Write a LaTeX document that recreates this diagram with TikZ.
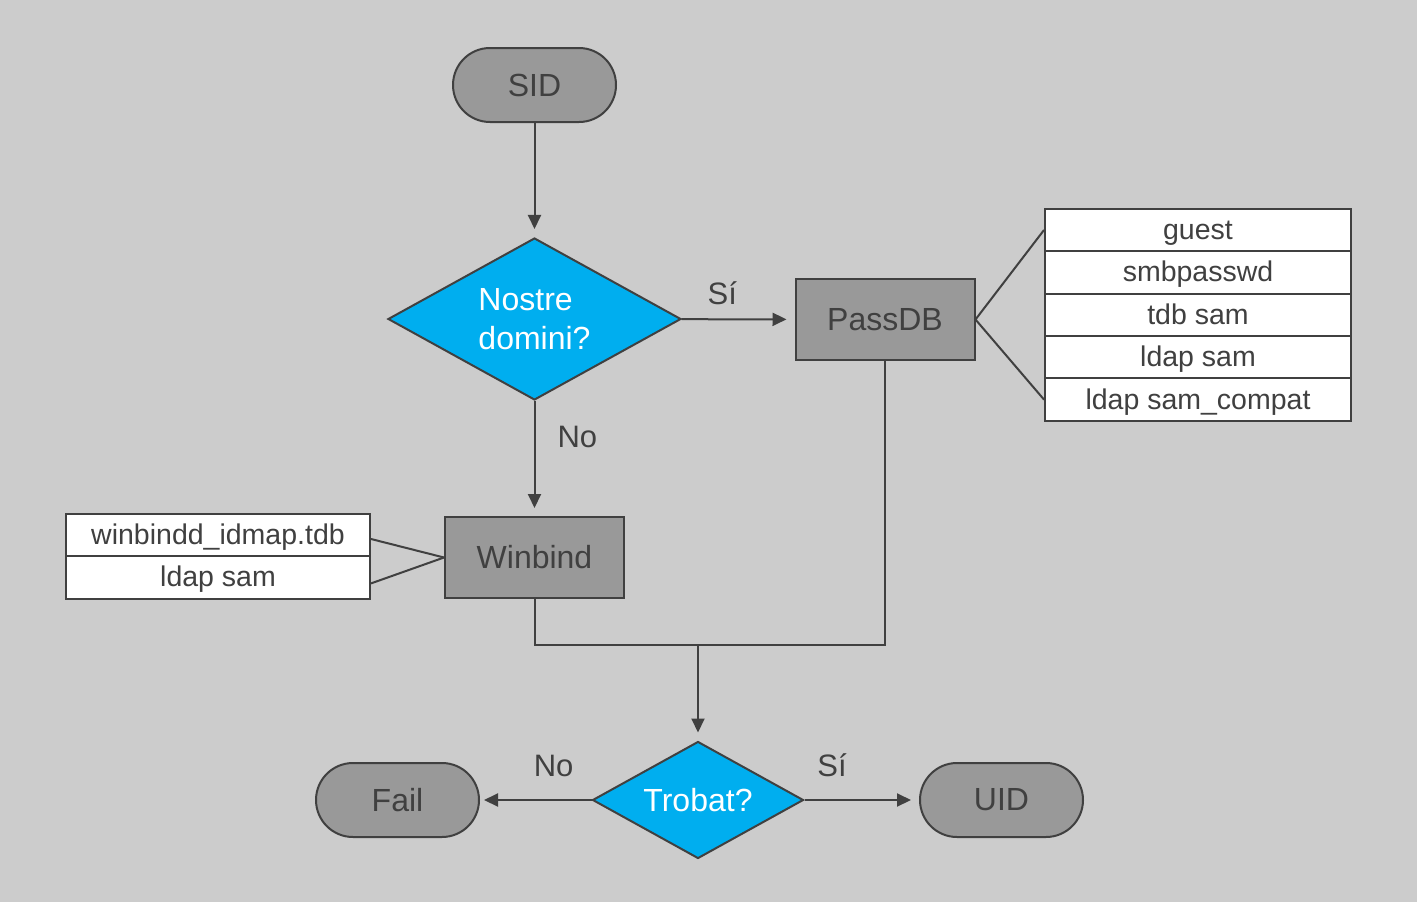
\documentclass[tikz,border=0pt]{standalone}
\usepackage{fontspec}
\setmainfont{Liberation Sans}
\usetikzlibrary{shapes.geometric,arrows.meta,positioning}
\definecolor{bgGray}{HTML}{CCCCCC}
\definecolor{boxGray}{HTML}{999999}
\definecolor{lineGray}{HTML}{404040}
\definecolor{decBlue}{HTML}{00AEEF}

\begin{document}
\begin{tikzpicture}[x=1pt, y=-1pt,
  line/.style={draw=lineGray, line width=2pt},
  flow/.style={line, -{Triangle[length=14pt,width=13pt]}, shorten >=8pt},
  terminal/.style={line, fill=boxGray, rounded corners=37pt,
    minimum width=163pt, minimum height=74pt, text=lineGray,
    font=\fontsize{32}{38}\selectfont},
  process/.style={line, fill=boxGray, minimum width=179pt,
    minimum height=81pt, text=lineGray, font=\fontsize{32}{38}\selectfont},
  decision/.style={line, fill=decBlue, diamond, aspect=2, inner sep=0pt,
    text=white, align=left, font=\fontsize{32}{39}\selectfont},
  cell/.style={line, fill=white, minimum height=42.4pt, inner sep=0pt,
    text height=25pt, text depth=6pt,
    text=lineGray, font=\fontsize{28.5}{34}\selectfont},
  answer/.style={text=lineGray, inner sep=2pt, font=\fontsize{31}{37}\selectfont}]
  % canvas
  \fill[bgGray] (0,0) rectangle (1417,902);
  \useasboundingbox (0,0) rectangle (1417,902);
  % main chain
  \node[terminal] (sid) at (534.5,85) {SID};
  \node[decision, minimum width=293pt, minimum height=162pt]
    (domini) at (534.5,319) {Nostre\\domini?};
  \node[process] (passdb) at (885,319.5) {PassDB};
  \node[process] (winbind) at (534.5,557.5) {Winbind};
  \node[decision, minimum width=211pt, minimum height=117pt]
    (trobat) at (698,800) {Trobat?};
  \node[terminal] (fail) at (397.5,800) {Fail};
  \node[terminal] (uid) at (1001.5,800) {UID};
  % passdb backends
  \node[cell, minimum width=306pt] (guest) at (1198,230) {guest};
  \node[cell, minimum width=306pt, below=-2pt of guest] (smbpw) {smbpasswd};
  \node[cell, minimum width=306pt, below=-2pt of smbpw] (tdbsam) {tdb sam};
  \node[cell, minimum width=306pt, below=-2pt of tdbsam] (ldapsam) {ldap sam};
  \node[cell, minimum width=306pt, below=-2pt of ldapsam] (ldapcompat) {ldap sam\_compat};
  % winbind backends
  \node[cell, minimum width=304pt] (idmap) at (218,535) {winbindd\_idmap.tdb};
  \node[cell, minimum width=304pt, below=-2pt of idmap] (wldap) {ldap sam};
  \coordinate (join) at (698,645);
  % connectors
  \draw[flow] (sid) -- (domini);
  \draw[flow] (domini) -- node[answer, above=11pt, pos=.36] (si1) {Sí} (passdb);
  \draw[flow] (domini) -- node[answer, right=20pt, pos=.31] (no1) {No} (winbind);
  \draw[line] (passdb.east) -- (guest.west);
  \draw[line] (passdb.east) -- (ldapcompat.west);
  \draw[line] (winbind.west) -- ([yshift=-4pt]idmap.east);
  \draw[line] (winbind.west) -- ([yshift=-6pt]wldap.east);
  \draw[line] (winbind.south) |- (join) -| (passdb.south);
  \draw[flow] (join) -- (trobat);
  \draw[flow, shorten >=4pt] (trobat) -- node[answer, above=20pt, pos=.34] (no2) {No} (fail);
  \draw[flow] (trobat) -- node[answer, above=20pt, pos=.24] (si2) {Sí} (uid);
\end{tikzpicture}
\end{document}
